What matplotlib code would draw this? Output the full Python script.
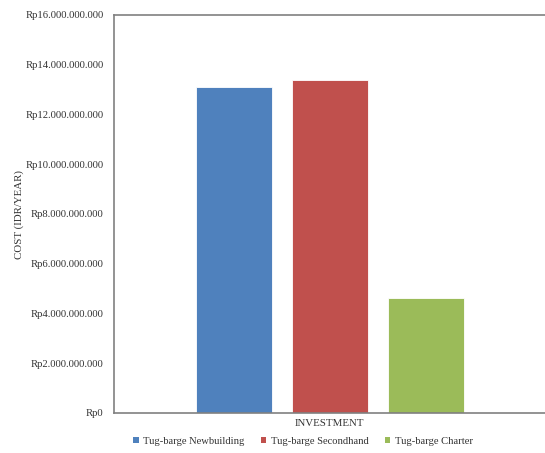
import matplotlib
matplotlib.use("Agg")
import matplotlib.pyplot as plt
from matplotlib.ticker import FuncFormatter
from matplotlib.patches import Patch

series = ["Tug-barge Newbuilding", "Tug-barge Secondhand", "Tug-barge Charter"]
values = [13.10e9, 13.39e9, 4.62e9]
colors = ["#4F81BD", "#C0504D", "#9BBB59"]
category = "INVESTMENT"
yticks = [i * 2e9 for i in range(9)]

plt.rcParams['font.family'] = ['Liberation Serif', 'DejaVu Serif']

fig = plt.figure(figsize=(5.45, 4.53), dpi=100)
ax = fig.add_axes([114/545, 1 - 413/453, (545-114)/545, (413-15)/453])

width = 76/431
gap = 20/431
offsets = [-(width + gap), 0, width + gap]
for s, v, c, o in zip(series, values, colors, offsets):
    ax.bar(0.5 + o, v, width=width, color=c, edgecolor="#ffffff", linewidth=0.6, label=s)

ax.set_xlim(0, 1)
ax.set_ylim(0, 16e9)
ax.set_yticks(yticks)
ax.yaxis.set_major_formatter(FuncFormatter(lambda v, p: "Rp" + f"{int(round(v)):,}".replace(",", ".")))
ax.set_xticks([])
ax.tick_params(axis='y', length=0, labelsize=7.7, colors="#333333", pad=7.5)
for side in ['left', 'top', 'bottom']:
    ax.spines[side].set_color("#808080")
    ax.spines[side].set_linewidth(1.2)
ax.spines['right'].set_visible(False)

ax.set_xlabel(category, fontsize=7.8, color="#333333", labelpad=4)
fig.text(19/545, 1 - 215/453, "COST (IDR/YEAR)", rotation=90, fontsize=7.8,
         color="#333333", ha='center', va='center')

handles = [Patch(facecolor=c, edgecolor='none') for c in colors]
fig.legend(handles, series, loc='center', bbox_to_anchor=(303/545, 1 - 441/453),
           ncol=3, frameon=False, fontsize=7.6, handlelength=0.5, handleheight=0.5,
           handletextpad=0.4, columnspacing=1.6, labelcolor="#333333")

fig.savefig("out.png", dpi=100)
